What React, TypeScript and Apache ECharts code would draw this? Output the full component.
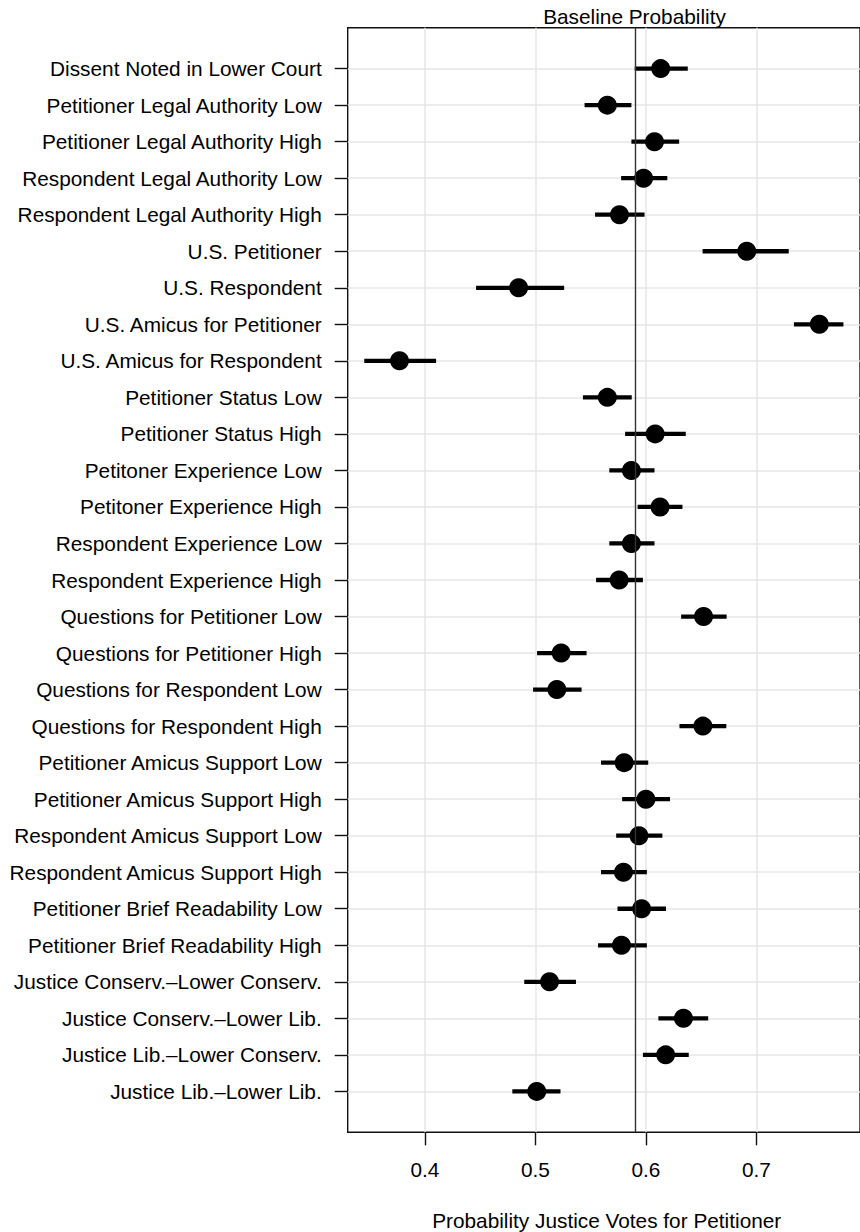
import React, { useEffect, useRef } from "react";
import * as echarts from "echarts";

const categories = [
  "Dissent Noted in Lower Court",
  "Petitioner Legal Authority Low",
  "Petitioner Legal Authority High",
  "Respondent Legal Authority Low",
  "Respondent Legal Authority High",
  "U.S. Petitioner",
  "U.S. Respondent",
  "U.S. Amicus for Petitioner",
  "U.S. Amicus for Respondent",
  "Petitioner Status Low",
  "Petitioner Status High",
  "Petitoner Experience Low",
  "Petitoner Experience High",
  "Respondent Experience Low",
  "Respondent Experience High",
  "Questions for Petitioner Low",
  "Questions for Petitioner High",
  "Questions for Respondent Low",
  "Questions for Respondent High",
  "Petitioner Amicus Support Low",
  "Petitioner Amicus Support High",
  "Respondent Amicus Support Low",
  "Respondent Amicus Support High",
  "Petitioner Brief Readability Low",
  "Petitioner Brief Readability High",
  "Justice Conserv.\u2013Lower Conserv.",
  "Justice Conserv.\u2013Lower Lib.",
  "Justice Lib.\u2013Lower Conserv.",
  "Justice Lib.\u2013Lower Lib.",
];

const estimates = [
  0.6134, 0.5651, 0.6078, 0.5979, 0.5761, 0.6913, 0.4848, 0.757, 0.377,
  0.5651, 0.6084, 0.5869, 0.6128, 0.5869, 0.5758, 0.6522, 0.5233, 0.5194,
  0.6516, 0.5803, 0.6, 0.5937, 0.5797, 0.5961, 0.5779, 0.5128, 0.634,
  0.6179, 0.5012,
];

const lower = [
  0.5899, 0.5445, 0.5869, 0.5776, 0.554, 0.6513, 0.4463, 0.734, 0.3451,
  0.543, 0.5812, 0.5669, 0.5925, 0.5669, 0.5549, 0.6319, 0.5015, 0.4979,
  0.6304, 0.5594, 0.5785, 0.5731, 0.5594, 0.5743, 0.5567, 0.4899, 0.6113,
  0.5973, 0.4791,
];

const upper = [
  0.6379, 0.5869, 0.6301, 0.6194, 0.5988, 0.7293, 0.526, 0.7788, 0.4101,
  0.5872, 0.6361, 0.6078, 0.6331, 0.6078, 0.5973, 0.6731, 0.5463, 0.5418,
  0.6728, 0.6021, 0.6218, 0.6149, 0.6009, 0.6182, 0.6009, 0.5367, 0.6564,
  0.6388, 0.5227,
];

const baseline = 0.5872;
const xTicks = [0.4, 0.5, 0.6, 0.7];
const xMin = 0.3301;
const xMax = 0.7938;

const FONT = "Liberation Sans, Arial, Helvetica, sans-serif";
const FS = 20.8;

export default function App() {
  const ref = useRef<HTMLDivElement>(null);

  useEffect(() => {
    const chart = echarts.init(ref.current as HTMLDivElement, null, { renderer: "svg" });
    const n = categories.length;
    const rows = categories.map((_, i) => i + 1);
    const pad = (n - 1) * 0.04;

    chart.setOption({
      animation: false,
      textStyle: { fontFamily: FONT },
      grid: {
        left: 347.7,
        top: 27.7,
        width: 517.7,
        height: 1104.6,
        show: true,
        borderColor: "#111",
        borderWidth: 1.4,
        backgroundColor: "transparent",
      },
      xAxis: {
        type: "value",
        min: xMin,
        max: xMax,
        position: "bottom",
        axisLine: { show: false, onZero: false },
        axisTick: {
          show: true,
          customValues: xTicks,
          length: 13,
          lineStyle: { color: "#111", width: 1.4 },
        },
        axisLabel: {
          customValues: xTicks,
          margin: 27,
          fontSize: FS,
          color: "#000",
          fontFamily: FONT,
          formatter: (v: number) => v.toFixed(1),
        },
        splitLine: { show: true, lineStyle: { color: "#e6e6e6", width: 1.5 } },
      },
      yAxis: {
        type: "value",
        inverse: true,
        min: 1 - pad,
        max: n + pad,
        position: "left",
        axisLine: { show: false, onZero: false },
        axisTick: {
          show: true,
          customValues: rows,
          length: 13,
          lineStyle: { color: "#111", width: 1.4 },
        },
        axisLabel: {
          customValues: rows,
          margin: 26,
          fontSize: FS,
          color: "#000",
          fontFamily: FONT,
          formatter: (v: number) => categories[Math.round(v) - 1] ?? "",
        },
        splitLine: { show: true, lineStyle: { color: "#e6e6e6", width: 1.5 } },
      },
      series: [
        {
          type: "custom",
          z: 2,
          data: rows.map((r, i) => [lower[i], upper[i], r]),
          encode: { x: [0, 1], y: 2 },
          renderItem: (params: any, api: any) => {
            const p1 = api.coord([api.value(0), api.value(2)]);
            const p2 = api.coord([api.value(1), api.value(2)]);
            return {
              type: "line",
              shape: { x1: p1[0], y1: p1[1], x2: p2[0], y2: p2[1] },
              style: { stroke: "#000", lineWidth: 4.3, lineCap: "butt" },
            };
          },
          markLine: {
            silent: true,
            symbol: ["none", "none"],
            label: { show: false },
            lineStyle: { color: "#333", width: 1.4, type: "solid" },
            data: [{ xAxis: baseline }],
          },
        },
        {
          type: "scatter",
          z: 3,
          symbol: "circle",
          symbolSize: 19,
          itemStyle: { color: "#000", opacity: 1 },
          data: rows.map((r, i) => [estimates[i], r]),
        },
      ],
      graphic: [
        {
          type: "text",
          x: 634.5,
          y: 16.5,
          style: {
            text: "Baseline Probability",
            fontSize: FS,
            fontFamily: FONT,
            fill: "#000",
            textAlign: "center",
            textVerticalAlign: "middle",
          },
        },
        {
          type: "text",
          x: 606.7,
          y: 1220,
          style: {
            text: "Probability Justice Votes for Petitioner",
            fontSize: FS,
            fontFamily: FONT,
            fill: "#000",
            textAlign: "center",
            textVerticalAlign: "middle",
          },
        },
      ],
    });

    return () => chart.dispose();
  }, []);

  return (
    <div
      ref={ref}
      style={{ position: "absolute", left: 0, top: 0, width: 860, height: 1232 }}
    />
  );
}
